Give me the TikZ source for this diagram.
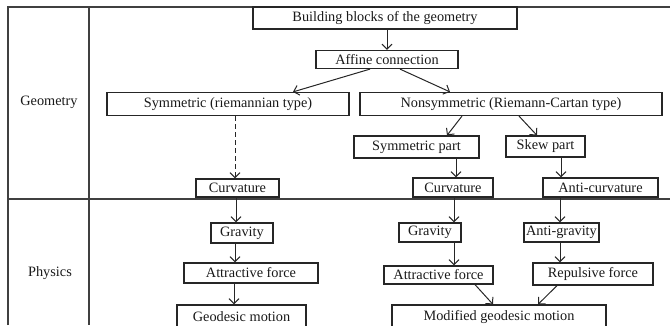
\documentclass[tikz,border=0pt]{standalone}
\usepackage{fontspec}
\setmainfont{Liberation Serif}
\usetikzlibrary{arrows.meta}
\begin{document}
\begin{tikzpicture}[x=1pt,y=-1pt,
  box/.style={draw=black!85, line width=1.2pt, inner sep=0pt, font=\fontsize{14.3}{16}\selectfont, text=black!90},
  arr/.style={draw=black!85, line width=1pt, -{Straight Barb[length=5pt,width=10pt,line width=1pt]}},
  frame/.style={draw=black!75, line width=1.6pt},
  lab/.style={font=\fontsize{14.3}{16}\selectfont, text=black!90}]
\useasboundingbox (0,0) rectangle (670,325);
% frame
\draw[frame] (8,325) -- (8,7) -- (670,7);
\draw[frame] (89,7) -- (89,325);
\draw[frame] (8,199) -- (670,199);
\node[lab] (geo) at (49,102) {Geometry};
\node[lab] (phy) at (50,273) {Physics};
% boxes
\node[box, minimum width=264, minimum height=22] (build) at (385,18) {Building blocks of the geometry};
\node[box, minimum width=142, minimum height=18] (aff) at (387,59.5) {Affine connection};
\node[box, minimum width=242, minimum height=23] (sym) at (228,104) {Symmetric (riemannian type)};
\node[box, minimum width=302, minimum height=23] (nons) at (511,104) {Nonsymmetric (Riemann-Cartan type)};
\node[box, minimum width=125, minimum height=22] (sympart) at (416.5,147) {Symmetric part};
\node[box, minimum width=79, minimum height=21] (skew) at (545.5,146.5) {Skew part};
\node[box, minimum width=83, minimum height=18] (curvL) at (237.5,188) {Curvature};
\node[box, minimum width=80, minimum height=19] (curvM) at (453,187.5) {Curvature};
\node[box, minimum width=115, minimum height=19] (acurv) at (600.5,187.5) {Anti-curvature};
\node[box, minimum width=62, minimum height=20] (gravL) at (242,233) {Gravity};
\node[box, minimum width=62, minimum height=19] (gravM) at (430,232.5) {Gravity};
\node[box, minimum width=75, minimum height=19] (agrav) at (561.5,232.5) {Anti-gravity};
\node[box, minimum width=134, minimum height=20] (attrL) at (251,273) {Attractive force};
\node[box, minimum width=109, minimum height=18] (attrM) at (438.5,275) {Attractive force};
\node[box, minimum width=120, minimum height=22] (rep) at (593,274) {Repulsive force};
\node[box, minimum width=129, minimum height=24] (geod) at (241.5,317) {Geodesic motion};
\node[box, minimum width=214, minimum height=24] (mod) at (499,317) {Modified geodesic motion};
% arrows
\draw[arr] (build.south -| aff.north) -- (aff.north);
\draw[arr] ([xshift=-17pt]aff.south) -- ([xshift=65pt]sym.north);
\draw[arr] ([xshift=13pt]aff.south) -- ([xshift=-61pt]nons.north);
\draw[arr, dash pattern=on 5pt off 3pt] ([xshift=-2.5pt]sym.south -| curvL.north) -- ([xshift=-2.5pt]curvL.north);
\draw[arr] ([xshift=-49pt]nons.south) -- ([xshift=30.5pt]sympart.north);
\draw[arr] ([xshift=8pt]nons.south) -- ([xshift=-8.5pt]skew.north);
\draw[arr] ([xshift=3pt]sympart.south -| curvM.north) -- ([xshift=3pt]curvM.north);
\draw[arr] ([xshift=15.5pt]skew.south) -- ([xshift=15.5pt]skew.south |- acurv.north);
\draw[arr] ([xshift=-1.5pt]curvL.south) -- ([xshift=-1.5pt]curvL.south |- gravL.north);
\draw[arr] ([xshift=-7pt]gravL.south) -- ([xshift=-7pt]gravL.south |- attrL.north);
\draw[arr] ([xshift=-17pt]attrL.south) -- ([xshift=-17pt]attrL.south |- geod.north);
\draw[arr] ([xshift=1pt]curvM.south) -- ([xshift=1pt]curvM.south |- gravM.north);
\draw[arr] ([xshift=24pt]gravM.south) -- ([xshift=24pt]gravM.south |- attrM.north);
\draw[arr] ([xshift=-1.5pt]acurv.south -| agrav.north) -- ([xshift=-1.5pt]agrav.north);
\draw[arr] ([xshift=-1.5pt]agrav.south) -- ([xshift=-1.5pt]agrav.south |- rep.north);
\draw[arr] ([xshift=36.5pt]attrM.south) -- ([xshift=-6pt]mod.north);
\draw[arr] ([xshift=-36pt]rep.south) -- ([xshift=39pt]mod.north);
\end{tikzpicture}
\end{document}
